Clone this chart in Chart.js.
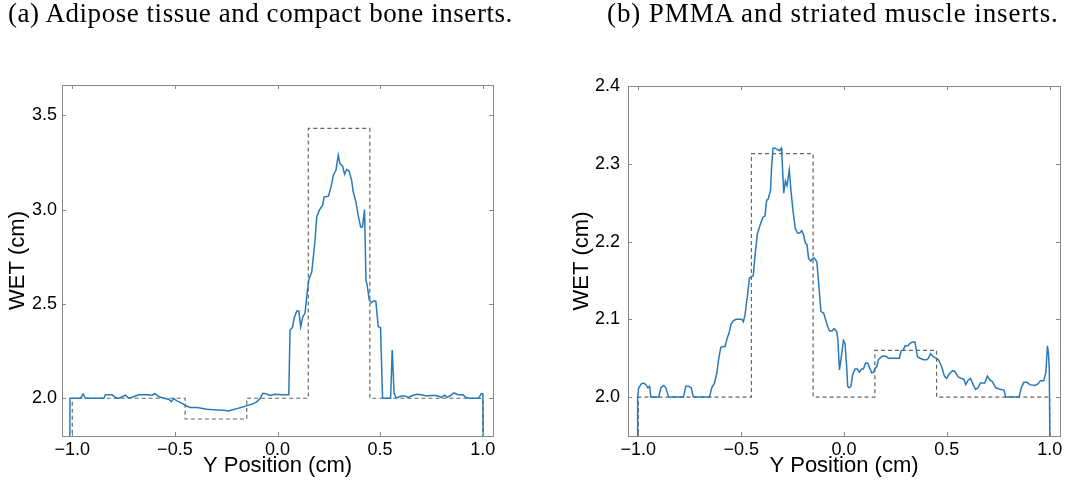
<!DOCTYPE html>
<html>
<head>
<meta charset="utf-8">
<title>WET profiles</title>
<script src="https://cdn.jsdelivr.net/npm/chart.js@4.4.1/dist/chart.umd.min.js"></script>
<style>
  body { margin: 0; background: #fff; width: 1072px; height: 483px; overflow: hidden; position: relative; }
  .panel { position: absolute; top: 0; width: 536px; height: 483px; }
  .cap { position: absolute; top: 0; font-family: "Liberation Serif", serif; font-size: 27px; line-height: 27px; white-space: nowrap; color: #000; z-index: 2; }
</style>
</head>
<body>
<div class="cap" style="left:8px; letter-spacing:0.55px">(a) Adipose tissue and compact bone inserts.</div>
<div class="cap" style="left:607px; letter-spacing:0.9px">(b) PMMA and striated muscle inserts.</div>
<div class="panel" style="left:0"><canvas id="chartA"></canvas></div>
<div class="panel" style="left:536px"><canvas id="chartB"></canvas></div>

<script>
// --- shared axis ticks ---
const xTicks = [-1.0, -0.5, 0.0, 0.5, 1.0];
const yTicksA = [2.0, 2.5, 3.0, 3.5];
const yTicksB = [2.0, 2.1, 2.2, 2.3, 2.4];

// --- (a) adipose + compact bone: measured WET profile ---
const posA = [-1.012, -1.011, -0.960, -0.947, -0.936, -0.846, -0.838, -0.806, -0.789, -0.773,
  -0.741, -0.725, -0.708, -0.676, -0.635, -0.611, -0.598, -0.579, -0.555, -0.530,
  -0.517, -0.506, -0.490, -0.473, -0.457, -0.444, -0.425, -0.392, -0.344, -0.295,
  -0.263, -0.238, -0.222, -0.198, -0.174, -0.149, -0.125, -0.101, -0.085, -0.071,
  -0.055, -0.036, -0.012, 0.021, 0.055, 0.061, 0.073, 0.081, 0.094, 0.104,
  0.113, 0.123, 0.134, 0.145, 0.152, 0.167, 0.183, 0.191, 0.204, 0.220,
  0.227, 0.248, 0.261, 0.272, 0.285, 0.296, 0.304, 0.317, 0.327, 0.337,
  0.348, 0.361, 0.369, 0.382, 0.393, 0.405, 0.414, 0.424, 0.431, 0.437,
  0.447, 0.458, 0.470, 0.479, 0.491, 0.502, 0.512, 0.551, 0.559, 0.568,
  0.577, 0.588, 0.604, 0.620, 0.637, 0.653, 0.677, 0.702, 0.726, 0.750,
  0.774, 0.799, 0.815, 0.826, 0.839, 0.860, 0.879, 0.904, 0.917, 0.936,
  0.980, 0.993, 1.001, 1.003];
const wetA = [1.70, 2.0, 2.0, 2.023, 2.0, 2.0, 2.018, 2.018, 2.004, 2.0,
  2.016, 2.0, 2.005, 2.018, 2.018, 2.016, 2.025, 2.009, 2.0, 1.995,
  1.982, 1.998, 1.986, 1.977, 1.968, 1.959, 1.951, 1.951, 1.942, 1.938,
  1.936, 1.933, 1.938, 1.945, 1.952, 1.961, 1.968, 1.981, 1.998, 2.026,
  2.024, 2.015, 2.021, 2.018, 2.018, 2.362, 2.376, 2.424, 2.462, 2.462,
  2.379, 2.432, 2.450, 2.564, 2.626, 2.670, 2.838, 2.961, 2.997, 3.023,
  3.067, 3.071, 3.120, 3.182, 3.209, 3.288, 3.244, 3.230, 3.187, 3.212,
  3.205, 3.156, 3.094, 3.041, 2.970, 2.908, 2.908, 3.000, 2.626, 2.600,
  2.521, 2.506, 2.517, 2.515, 2.379, 2.374, 2.0, 2.0, 2.256, 2.026,
  2.004, 2.005, 2.012, 2.012, 2.004, 2.012, 2.021, 2.019, 2.012, 2.014,
  2.014, 2.005, 2.016, 2.005, 2.012, 2.028, 2.019, 2.018, 2.005, 2.0,
  2.0, 2.025, 2.023, 1.70];
// nominal insert steps
const refPosA = [-1.0, -1.0, -0.45, -0.45, -0.15, -0.15, 0.15, 0.15, 0.45, 0.45, 1.0, 1.0];
const refWetA = [1.70, 2.0, 2.0, 1.89, 1.89, 2.0, 2.0, 3.43, 3.43, 2.0, 2.0, 1.70];

// --- (b) PMMA + striated muscle: measured WET profile ---
const posB = [-1.006, -1.003, -0.998, -0.985, -0.974, -0.963, -0.953, -0.945, -0.939, -0.901,
  -0.890, -0.877, -0.866, -0.853, -0.780, -0.769, -0.756, -0.743, -0.732, -0.654,
  -0.643, -0.630, -0.618, -0.610, -0.599, -0.586, -0.578, -0.568, -0.559, -0.549,
  -0.538, -0.526, -0.497, -0.489, -0.481, -0.470, -0.460, -0.449, -0.441, -0.433,
  -0.421, -0.408, -0.395, -0.384, -0.376, -0.368, -0.357, -0.352, -0.345, -0.335,
  -0.322, -0.314, -0.305, -0.302, -0.293, -0.285, -0.277, -0.266, -0.258, -0.248,
  -0.237, -0.226, -0.216, -0.205, -0.196, -0.188, -0.180, -0.172, -0.161, -0.153,
  -0.145, -0.132, -0.123, -0.112, -0.099, -0.091, -0.080, -0.070, -0.059, -0.048,
  -0.035, -0.030, -0.022, -0.011, -0.003, 0.005, 0.013, 0.018, 0.025, 0.034,
  0.042, 0.054, 0.065, 0.075, 0.086, 0.094, 0.105, 0.115, 0.127, 0.135,
  0.143, 0.151, 0.159, 0.167, 0.178, 0.191, 0.208, 0.216, 0.240, 0.269,
  0.277, 0.289, 0.297, 0.310, 0.321, 0.334, 0.345, 0.357, 0.370, 0.386,
  0.402, 0.410, 0.421, 0.434, 0.447, 0.459, 0.475, 0.488, 0.499, 0.512,
  0.528, 0.539, 0.555, 0.571, 0.583, 0.592, 0.604, 0.615, 0.628, 0.639,
  0.652, 0.663, 0.684, 0.697, 0.709, 0.721, 0.738, 0.757, 0.778, 0.786,
  0.851, 0.862, 0.874, 0.890, 0.903, 0.927, 0.943, 0.955, 0.971, 0.981,
  0.989, 0.994, 0.998, 1.002];
const wetB = [1.90, 2.0, 2.012, 2.017, 2.018, 2.016, 2.012, 2.014, 2.0, 2.0,
  2.012, 2.015, 2.012, 2.0, 2.0, 2.014, 2.014, 2.012, 2.0, 2.0,
  2.012, 2.018, 2.031, 2.048, 2.064, 2.065, 2.065, 2.076, 2.082, 2.094,
  2.098, 2.100, 2.100, 2.097, 2.106, 2.129, 2.153, 2.155, 2.156, 2.181,
  2.210, 2.221, 2.231, 2.233, 2.253, 2.255, 2.266, 2.296, 2.320, 2.320,
  2.318, 2.317, 2.320, 2.311, 2.262, 2.278, 2.272, 2.292, 2.266, 2.240,
  2.217, 2.211, 2.211, 2.214, 2.208, 2.198, 2.196, 2.178, 2.175, 2.178,
  2.179, 2.174, 2.146, 2.110, 2.108, 2.101, 2.091, 2.085, 2.085, 2.088,
  2.084, 2.074, 2.035, 2.056, 2.073, 2.069, 2.039, 2.014, 2.012, 2.014,
  2.029, 2.036, 2.036, 2.032, 2.036, 2.036, 2.044, 2.044, 2.036, 2.031,
  2.032, 2.037, 2.039, 2.048, 2.051, 2.053, 2.052, 2.050, 2.050, 2.050,
  2.059, 2.061, 2.066, 2.066, 2.069, 2.071, 2.071, 2.052, 2.050, 2.048,
  2.048, 2.050, 2.056, 2.052, 2.050, 2.048, 2.039, 2.027, 2.024, 2.030,
  2.034, 2.033, 2.026, 2.024, 2.023, 2.016, 2.022, 2.024, 2.016, 2.010,
  2.012, 2.018, 2.018, 2.027, 2.022, 2.020, 2.012, 2.010, 2.009, 2.0,
  2.0, 2.012, 2.019, 2.019, 2.016, 2.015, 2.017, 2.021, 2.021, 2.031,
  2.066, 2.056, 2.035, 1.90];
const refPosB = [-1.0, -1.0, -0.45, -0.45, -0.15, -0.15, 0.15, 0.15, 0.45, 0.45, 1.0, 1.0];
const refWetB = [1.90, 2.0, 2.0, 2.313, 2.313, 2.0, 2.0, 2.06, 2.06, 2.0, 2.0, 1.90];

const FRAME = '#888888';
const zip = (xs, ys) => xs.map((x, i) => ({ x: x, y: ys[i] }));
const fmtTick = v => (v < 0 ? '\u2212' : '') + Math.abs(v).toFixed(1);

// box around the plot + inward tick marks on all four sides
const frameTicks = {
  id: 'frameTicks',
  afterDraw(chart) {
    const { ctx, chartArea: a, scales: { x, y } } = chart;
    const len = 4;
    ctx.save();
    ctx.strokeStyle = FRAME;
    ctx.lineWidth = 1;
    ctx.beginPath();
    x.ticks.forEach(t => {
      const px = Math.round(x.getPixelForValue(t.value)) + 0.5;
      ctx.moveTo(px, a.bottom); ctx.lineTo(px, a.bottom - len);
      ctx.moveTo(px, a.top); ctx.lineTo(px, a.top + len);
    });
    y.ticks.forEach(t => {
      const py = Math.round(y.getPixelForValue(t.value)) + 0.5;
      ctx.moveTo(a.left, py); ctx.lineTo(a.left + len, py);
      ctx.moveTo(a.right, py); ctx.lineTo(a.right - len, py);
    });
    ctx.stroke();
    ctx.strokeRect(Math.round(a.left) + 0.5, Math.round(a.top) + 0.5,
      Math.round(a.right - a.left), Math.round(a.bottom - a.top));
    ctx.restore();
  }
};

function buildChart(id, p) {
  return new Chart(document.getElementById(id), {
    type: 'line',
    data: {
      datasets: [
        { label: 'Measured', data: zip(p.pos, p.wet), borderColor: '#2a7ab9', borderWidth: 1.5,
          pointRadius: 0, tension: 0, fill: false },
        { label: 'Nominal', data: zip(p.refPos, p.refWet), borderColor: '#666666', borderWidth: 1.2,
          borderDash: [4, 3], pointRadius: 0, tension: 0, fill: false }
      ]
    },
    options: {
      responsive: true,
      maintainAspectRatio: false,
      animation: false,
      layout: { padding: p.pad },
      plugins: { legend: { display: false }, tooltip: { enabled: false } },
      scales: {
        x: {
          type: 'linear', min: -1.05, max: 1.05,
          grid: { display: false, drawTicks: false }, border: { display: false },
          afterBuildTicks: s => { s.ticks = xTicks.map(v => ({ value: v })); },
          afterFit: s => { s.height = 47; },
          ticks: { padding: 3, color: '#000', maxRotation: 0, autoSkip: false,
                   font: { family: 'Liberation Sans', size: 18 }, callback: fmtTick },
          title: { display: true, text: 'Y Position (cm)', color: '#000',
                   font: { family: 'Liberation Sans', size: 22 }, padding: { top: 4, bottom: 4 } }
        },
        y: {
          type: 'linear', min: p.yMin, max: p.yMax,
          grid: { display: false, drawTicks: false }, border: { display: false },
          afterBuildTicks: s => { s.ticks = p.yTicks.map(v => ({ value: v })); },
          afterFit: s => { s.width = p.yW; },
          ticks: { padding: p.yTickPad, color: '#000',
                   font: { family: 'Liberation Sans', size: 18 }, callback: v => v.toFixed(1) },
          title: { display: true, text: 'WET (cm)', color: '#000',
                   font: { family: 'Liberation Sans', size: 22 },
                   padding: { top: p.yTitlePad, bottom: p.yTitlePad } }
        }
      }
    },
    plugins: [frameTicks]
  });
}

buildChart('chartA', {
  pos: posA, wet: wetA, refPos: refPosA, refWet: refWetA,
  yMin: 1.8, yMax: 3.66, yTicks: yTicksA,
  pad: { left: 0, right: 43, top: 85, bottom: 0 }, yW: 62, yTickPad: 5, yTitlePad: 5
});
buildChart('chartB', {
  pos: posB, wet: wetB, refPos: refPosB, refWet: refWetB,
  yMin: 1.95, yMax: 2.4, yTicks: yTicksB,
  pad: { left: 0, right: 12, top: 86, bottom: 0 }, yW: 92, yTickPad: 8, yTitlePad: 33
});
</script>
</body>
</html>
